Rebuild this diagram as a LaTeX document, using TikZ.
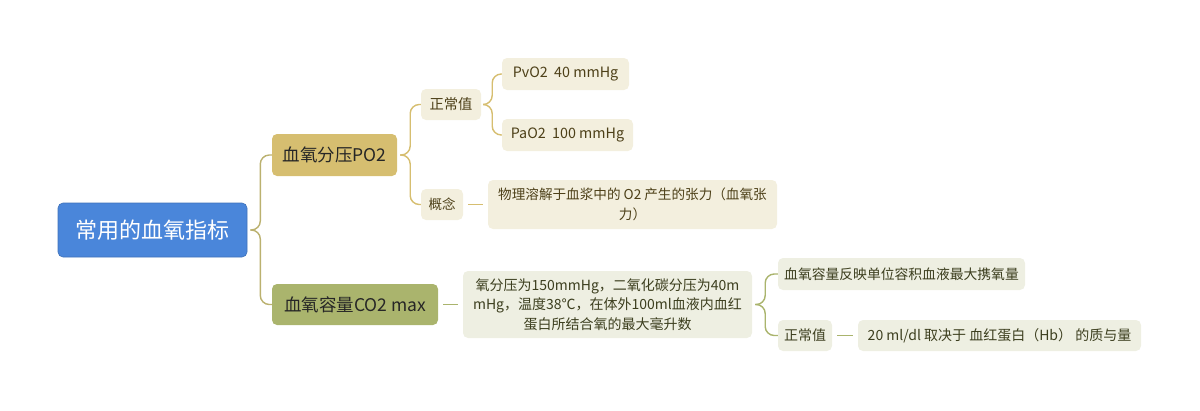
\documentclass[tikz,border=0pt]{standalone}
\usepackage{fontspec}
\setmainfont{Noto Sans CJK SC}
\definecolor{rootblue}{HTML}{4A86DA}
\definecolor{goldfill}{HTML}{D6BE70}
\definecolor{olivefill}{HTML}{AAB46D}
\definecolor{goldlight}{HTML}{F3EFDE}
\definecolor{olivelight}{HTML}{EEEFE2}
\definecolor{goldtext}{HTML}{4D4018}
\definecolor{olivetext}{HTML}{3C3E1E}
\definecolor{rootline}{HTML}{BBB16F}
\tikzset{
  box/.style={rounded corners=5pt, inner sep=0pt, align=center},
  rootbox/.style={box, fill=rootblue, draw=rootblue!85!black, line width=0.6pt, text=white, font=\fontsize{22}{26}\selectfont},
  mainbox/.style={box, text=black!85, font=\fontsize{17.5}{21}\selectfont},
  goldbox/.style={box, fill=goldlight, text=goldtext, font=\fontsize{14.3}{17}\selectfont},
  olivebox/.style={box, fill=olivelight, text=olivetext, font=\fontsize{14}{17}\selectfont},
  conn/.style={line width=1.4pt, rounded corners=9pt},
  straight/.style={line width=1.4pt, shorten <=5pt, shorten >=5pt},
}
\begin{document}
\begin{tikzpicture}[x=1pt,y=-1pt]
\useasboundingbox (0,0) rectangle (1200,410);
% nodes
\node[rootbox, minimum width=189pt, minimum height=54pt] (root) at (152.5,230) {常用的血氧指标};
\node[mainbox, fill=goldfill, minimum width=125pt, minimum height=42pt] (po2) at (334.5,155) {血氧分压PO2};
\node[mainbox, fill=olivefill, minimum width=166pt, minimum height=41pt] (co2) at (355,304.5) {血氧容量CO2 max};
\node[goldbox, minimum width=60pt, minimum height=31pt] (zc1) at (451,104.5) {正常值};
\node[goldbox, minimum width=127pt, minimum height=32pt] (pvo2) at (565.5,74) {PvO2\ \ 40 mmHg};
\node[goldbox, minimum width=131pt, minimum height=32pt] (pao2) at (567.5,135) {PaO2\ \ 100 mmHg};
\node[goldbox, minimum width=42pt, minimum height=31pt, font=\fontsize{13.5}{17}\selectfont] (gn) at (442,204.5) {概念};
\node[goldbox, minimum width=289pt, minimum height=49pt, font=\fontsize{13.6}{20}\selectfont] (wl) at (632.5,204.5) {物理溶解于血浆中的 O2 产生的张力（血氧张\\力）};
\node[olivebox, minimum width=289pt, minimum height=67pt, font=\fontsize{14}{19.5}\selectfont] (desc) at (607.5,304.5) {氧分压为150mmHg，二氧化碳分压为40m\\mHg，温度38℃，在体外100ml血液内血红\\蛋白所结合氧的最大毫升数};
\node[olivebox, minimum width=247pt, minimum height=32pt, font=\fontsize{13.8}{17}\selectfont] (fy) at (901.5,274) {血氧容量反映单位容积血液最大携氧量};
\node[olivebox, minimum width=54pt, minimum height=31pt] (zc2) at (805,335.5) {正常值};
\node[olivebox, minimum width=283pt, minimum height=31pt] (ml) at (999.5,335.5) {20 ml/dl 取决于 血红蛋白（Hb） 的质与量};
% connectors
\draw[conn, rootline] (root.east) ++(3,0) -- ++(10,0) |- (po2.west);
\draw[conn, rootline] (root.east) ++(3,0) -- ++(10,0) |- (co2.west);
\draw[conn, goldfill] (po2.east) ++(3,0) -- ++(10,0) |- (zc1.west);
\draw[conn, goldfill] (po2.east) ++(3,0) -- ++(10,0) |- (gn.west);
\draw[conn, goldfill] (zc1.east) ++(3,0) -- ++(8,0) |- (pvo2.west);
\draw[conn, goldfill] (zc1.east) ++(3,0) -- ++(8,0) |- (pao2.west);
\draw[straight, goldfill] (gn.east) -- (wl.west);
\draw[straight, olivefill] (co2.east) -- (desc.west);
\draw[conn, olivefill] (desc.east) ++(3,0) -- ++(10,0) |- (fy.west);
\draw[conn, olivefill] (desc.east) ++(3,0) -- ++(10,0) |- (zc2.west);
\draw[straight, olivefill] (zc2.east) -- (ml.west);
\end{tikzpicture}
\end{document}
